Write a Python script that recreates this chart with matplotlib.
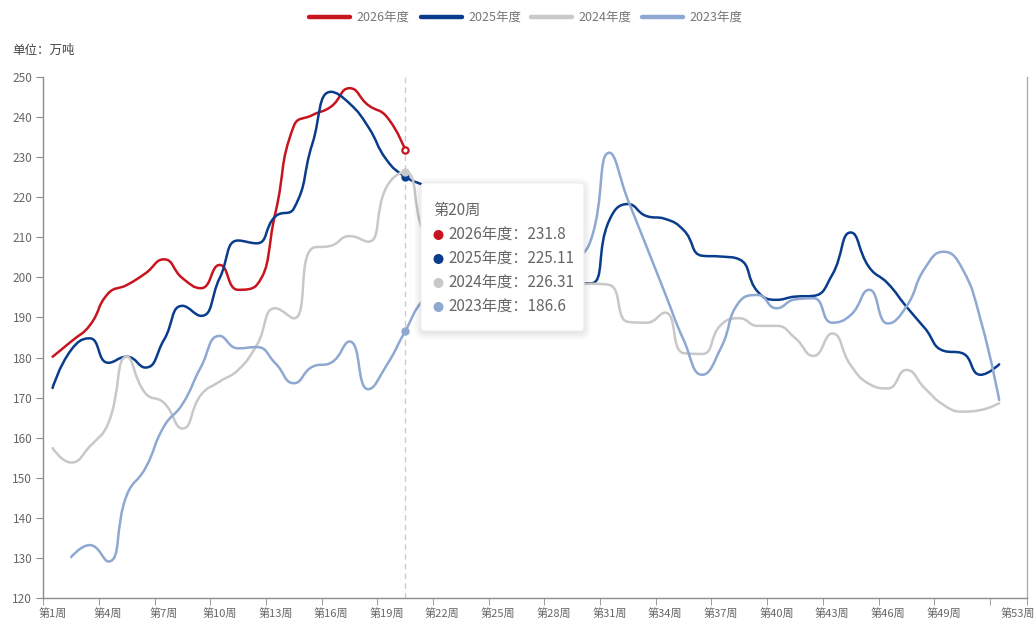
import numpy as np
import matplotlib.pyplot as plt
from matplotlib.path import Path
from matplotlib.patches import PathPatch, FancyBboxPatch, Circle
from matplotlib.lines import Line2D

plt.rcParams['font.family'] = ['Noto Sans CJK SC', 'DejaVu Sans']

# ---- data ----
weeks = ['第%d周' % i for i in range(1, 54)]
label_weeks = [1, 4, 7, 10, 13, 16, 19, 22, 25, 28, 31, 34, 37, 40, 43, 46, 49, 53]
tick_weeks = [1, 4, 7, 10, 13, 16, 19, 22, 25, 28, 31, 34, 37, 40, 43, 46, 49, 52]

names = ['2026年度', '2025年度', '2024年度', '2023年度']
colors = ['#C8141E', '#0A3C8C', '#C8C8C8', '#8EA8D2']

y2026 = [180.2, 184.0, 188.0, 196.0, 198.1, 201.0, 204.5, 199.8, 197.3, 203.1,
         196.9, 198.1, 216.0, 237.8, 240.5, 242.6, 247.2, 243.0, 240.1, 231.8]
y2025 = [172.4, 181.9, 184.8, 178.7, 180.2, 177.5, 184.4, 192.9, 190.4, 199.8,
         209.2, 208.5, 215.2, 217.2, 233.4, 246.3, 243.4, 237.6, 229.3, 225.11,
         223.0, 221.0, 216.0, 210.0, 205.0, 201.0, 199.0, 198.0, 198.5, 198.5,
         214.3, 218.3, 215.3, 214.6, 211.8, 205.4, 205.2, 204.5, 196.4, 194.4,
         195.2, 195.4, 200.6, 211.2, 202.5, 198.5, 192.7, 187.3, 181.7, 181.1,
         175.7, 178.3]
y2024 = [157.4, 153.8, 157.8, 163.6, 180.2, 171.1, 168.7, 162.3, 170.7, 174.0,
         176.9, 183.1, 192.3, 189.8, 207.3, 207.9, 210.3, 208.9, 222.6, 226.31,
         211.0, 205.0, 201.0, 199.0, 198.0, 198.0, 198.5, 198.0, 198.3, 198.4,
         198.1, 188.9, 188.7, 191.2, 181.1, 180.9, 188.1, 189.8, 187.9, 187.9,
         184.9, 180.4, 186.0, 178.1, 173.4, 172.3, 176.9, 172.3, 168.2, 166.5,
         166.9, 168.6]
y2023 = [None, 130.2, 133.2, 129.1, 145.7, 152.4, 162.8, 168.4, 177.7, 185.4,
         182.3, 182.6, 178.6, 173.6, 177.7, 178.7, 184.0, 172.1, 178.1, 186.6,
         194.5, 197.0, 198.0, 197.0, 198.0, 200.0, 201.0, 202.0, 204.0, 209.3,
         231.1, 219.3, 207.7, 196.0, 184.4, 175.7, 182.3, 193.9, 195.6, 192.3,
         194.5, 194.8, 188.7, 190.6, 196.9, 188.5, 192.7, 202.3, 206.4, 202.3,
         189.4, 169.4]
series = [y2026, y2025, y2024, y2023]
hover_week = 20

W, H = 1035, 621
SX, SY = 18.56, 4.008   # pixels per x unit / y unit, used for smoothing


def smooth_path(xs, ys, smooth=0.5):
    # echarts-like smooth line (bezier with extreme constraint)
    px = np.asarray(xs, float) * SX
    py = np.asarray(ys, float) * SY
    n = len(px)
    verts = [(px[0], py[0])]
    codes = [Path.MOVETO]
    c0x, c0y = px[0], py[0]
    for i in range(1, n):
        x, y = px[i], py[i]
        if i < n - 1:
            prx, pry = px[i-1], py[i-1]
            nx, ny = px[i+1], py[i+1]
            vx, vy = nx - prx, ny - pry
            lp = np.hypot(x - prx, y - pry)
            ln = np.hypot(nx - x, ny - y)
            r = ln / (ln + lp)
            ncx = np.clip(x + vx*smooth*r, min(nx, x), max(nx, x))
            ncy = np.clip(y + vy*smooth*r, min(ny, y), max(ny, y))
            vx, vy = ncx - x, ncy - y
            c1x = np.clip(x - vx*lp/ln, min(prx, x), max(prx, x))
            c1y = np.clip(y - vy*lp/ln, min(pry, y), max(pry, y))
            vx, vy = x - c1x, y - c1y
            ncx, ncy = x + vx*ln/lp, y + vy*ln/lp
        else:
            c1x, c1y, ncx, ncy = x, y, x, y
        verts += [(c0x, c0y), (c1x, c1y), (x, y)]
        codes += [Path.CURVE4] * 3
        c0x, c0y = ncx, ncy
    v = np.array(verts)
    v[:, 0] /= SX
    v[:, 1] /= SY
    return Path(v, codes)


fig = plt.figure(figsize=(W/100, H/100), dpi=100)
ax = fig.add_axes([43.3/W, 1-598/H, (1027-43.3)/W, (598-77)/H])
ax.set_xlim(-0.5, len(weeks) - 0.5)
ax.set_ylim(120, 250)

ax.axvline(hover_week - 1, color='#cccccc', lw=1, ls=(0, (4, 3)), zorder=1)

for name, vals, c in zip(names, series, colors):
    xs = [i for i, v in enumerate(vals) if v is not None]
    ys = [v for v in vals if v is not None]
    ax.add_patch(PathPatch(smooth_path(xs, ys), fill=False, edgecolor=c,
                           lw=1.8, capstyle='round', joinstyle='round', zorder=3))
    hv = vals[hover_week - 1]
    if name == '2026年度':
        ax.plot(hover_week - 1, hv, 'o', ms=4.5, mfc='white', mec=c, mew=1.6, zorder=4)
    else:
        ax.plot(hover_week - 1, hv, 'o', ms=5, mfc=c, mec=c, zorder=4)

# axes styling
for s in ['left', 'bottom', 'right']:
    ax.spines[s].set_color('#8c8c8c')
    ax.spines[s].set_linewidth(1)
ax.spines['right'].set_color('#b0b0b0')
ax.spines['top'].set_visible(False)

ax.set_yticks(np.arange(120, 251, 10))
ax.tick_params(axis='y', length=5, color='#8c8c8c', labelcolor='#666666',
               labelsize=8.5, pad=3)
ax.set_xticks([w - 1 for w in label_weeks])
ax.set_xticklabels([weeks[w - 1] for w in label_weeks])
ax.set_xticks([w - 1.5 for w in tick_weeks] + [len(weeks) - 0.5], minor=True)
ax.tick_params(axis='x', which='major', length=0, labelcolor='#666666',
               labelsize=8, pad=7)
ax.tick_params(axis='x', which='minor', length=5, color='#8c8c8c')

# overlay in pixel coordinates for legend, unit and tooltip
ov = fig.add_axes([0, 0, 1, 1], zorder=10)
ov.set_xlim(0, W)
ov.set_ylim(H, 0)
ov.axis('off')

leg_x = [309, 421, 531, 642]
for lx, name, c in zip(leg_x, names, colors):
    ov.add_line(Line2D([lx, lx + 41], [17, 17], color=c, lw=3.2,
                       solid_capstyle='round'))
    ov.text(lx + 47, 17, name, fontsize=9, color='#777777', va='center')

ov.text(12, 50, '单位：万吨', fontsize=9, color='#444444', va='center')

# tooltip
bx, by, bw, bh = 421, 183, 163, 148
for k in range(1, 9):
    ov.add_patch(FancyBboxPatch((bx - k + 1, by - k + 3), bw + 2*k - 2, bh + 2*k - 2,
                                boxstyle='round,pad=0,rounding_size=%d' % (4 + k),
                                fc='black', ec='none', alpha=0.012))
ov.add_patch(FancyBboxPatch((bx, by), bw, bh, boxstyle='round,pad=0,rounding_size=4',
                            fc='white', ec='#eeeeee', lw=0.8))
ov.text(433, 210, weeks[hover_week - 1], fontsize=11, color='#666666', va='center')
for k, (name, vals, c) in enumerate(zip(names, series, colors)):
    yy = 235 + 24 * k
    ov.add_patch(Circle((438.5, yy), 5, fc=c, ec='none'))
    ov.text(448, yy, '%s：%g' % (name, vals[hover_week - 1]), fontsize=11,
            color='#666666', va='center')

fig.savefig('out.png', dpi=100)
